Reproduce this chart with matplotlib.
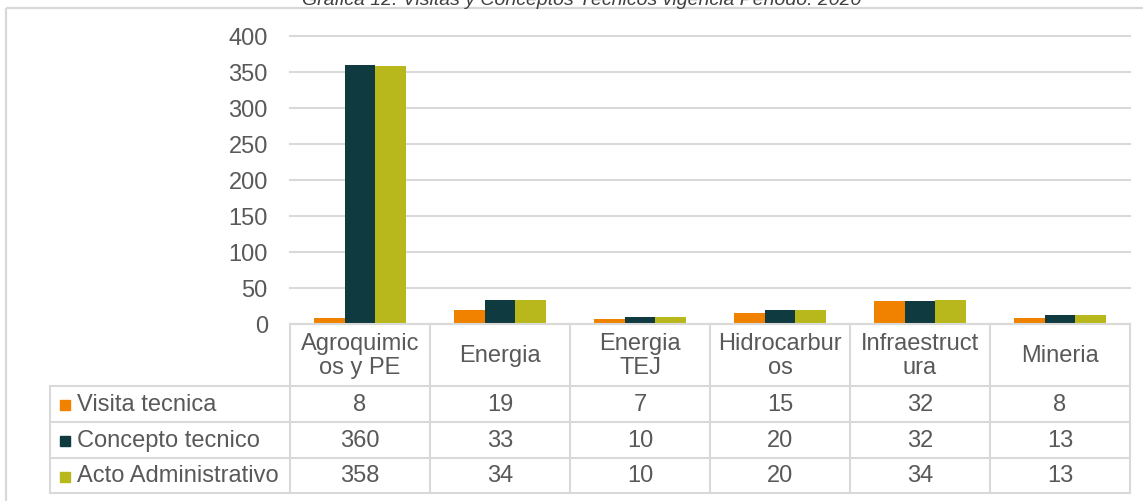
import matplotlib
matplotlib.use('Agg')
import matplotlib.pyplot as plt
from matplotlib.patches import Rectangle
from matplotlib.lines import Line2D
import numpy as np

plt.rcParams['font.family'] = ['Liberation Sans', 'DejaVu Sans']

# datos
categorias = ['Agroquimic\nos y PE', 'Energia', 'Energia\nTEJ', 'Hidrocarbur\nos',
              'Infraestruct\nura', 'Mineria']
series = ['Visita tecnica', 'Concepto tecnico', 'Acto Administrativo']
visita = [8, 19, 7, 15, 32, 8]
concepto = [360, 33, 10, 20, 32, 13]
acto = [358, 34, 10, 20, 34, 13]
colores = ['#F08200', '#0F3A40', '#B8B81C']
titulo = 'Gráfica 12. Visitas y Conceptos Técnicos vigencia Periodo: 2020'
yticks = [0, 50, 100, 150, 200, 250, 300, 350, 400]

W, H = 1143, 502
gris = '#D9D9D9'
texto = '#595959'
fs = 17

fig = plt.figure(figsize=(W / 100, H / 100), dpi=100)

# area de barras (en pixeles)
x0, x1, ytop, ybot = 290, 1130, 37, 325
ax = fig.add_axes([x0 / W, (H - ybot) / H, (x1 - x0) / W, (ybot - ytop) / H])
n = len(categorias)
x = np.arange(n)
w = 0.22
for i, vals in enumerate([visita, concepto, acto]):
    ax.bar(x + (i - 1) * w, vals, w, color=colores[i], zorder=3)
ax.set_xlim(-0.5, n - 0.5)
ax.set_ylim(0, 400)
ax.set_yticks(yticks)
ax.set_xticks([])
ax.tick_params(axis='y', length=0, pad=16, labelsize=fs, labelcolor=texto)
ax.grid(axis='y', color=gris, linewidth=1.5, zorder=0)
for s in ax.spines.values():
    s.set_visible(False)
for gl in ax.get_ygridlines():
    gl.set_clip_on(False)

# capa de tabla en pixeles
lay = fig.add_axes([0, 0, 1, 1])
lay.set_xlim(0, W)
lay.set_ylim(H, 0)
lay.axis('off')
lay.patch.set_alpha(0)

# marco exterior
lay.add_patch(Rectangle((6, 8.5), W + 10, H + 10, fill=False, edgecolor=gris, linewidth=1.6))

# titulo (cortado por el borde superior, como en el original)
lay.text(582, 5, titulo, ha='center', va='baseline', fontsize=14, style='italic', color='#404040')

colw = (x1 - x0) / n
rows = [325, 387, 423, 459, 494]
xl = 50
lw = 1.5
lay.add_line(Line2D([x0, x1], [rows[0], rows[0]], color=gris, lw=lw))
for yy in rows[1:]:
    lay.add_line(Line2D([xl, x1], [yy, yy], color=gris, lw=lw))
for j in range(n + 1):
    xx = x0 + j * colw
    lay.add_line(Line2D([xx, xx], [rows[0], rows[-1]], color=gris, lw=lw))
lay.add_line(Line2D([xl, xl], [rows[1], rows[-1]], color=gris, lw=lw))

# encabezados
for j, c in enumerate(categorias):
    lay.text(x0 + (j + 0.5) * colw, (rows[0] + rows[1]) / 2, c, ha='center', va='center',
             fontsize=fs, color=texto, linespacing=1.1)

# filas
for i, (nombre, vals) in enumerate(zip(series, [visita, concepto, acto])):
    yc = (rows[i + 1] + rows[i + 2]) / 2
    lay.add_patch(Rectangle((60, yc - 4), 10, 10, color=colores[i]))
    lay.text(77, yc, nombre, ha='left', va='center', fontsize=fs, color=texto)
    for j, v in enumerate(vals):
        lay.text(x0 + (j + 0.5) * colw, yc, str(v), ha='center', va='center',
                 fontsize=fs, color=texto)

fig.savefig('out.png', dpi=100)
